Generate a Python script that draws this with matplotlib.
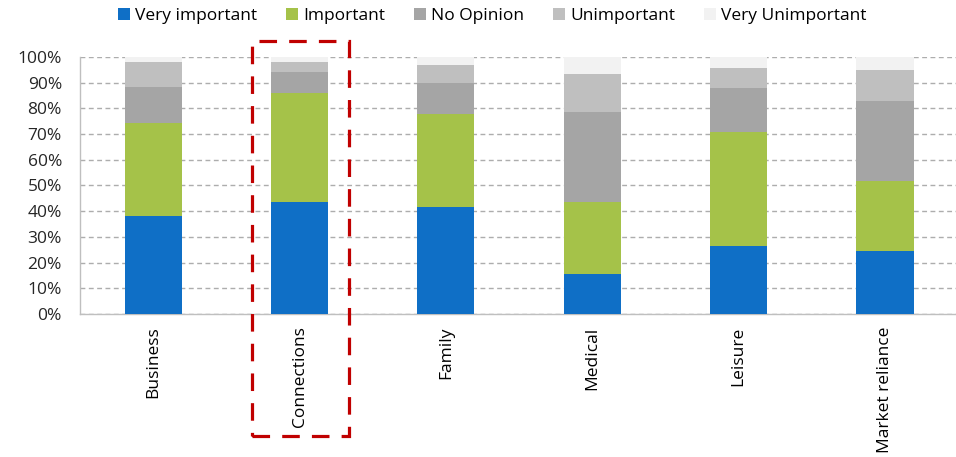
import numpy as np
import matplotlib.pyplot as plt
from matplotlib.patches import Rectangle

plt.rcParams['font.family'] = ['Open Sans', 'DejaVu Sans']

# survey answers per reason, in percent
categories = ["Business", "Connections", "Family", "Medical", "Leisure", "Market reliance"]
very_important = [38.2, 43.4, 41.6, 15.5, 26.4, 24.6]
important = [36.3, 42.4, 36.2, 27.9, 44.5, 27.3]
no_opinion = [13.8, 8.5, 12.1, 35.2, 17.1, 30.9]
unimportant = [9.6, 3.6, 7.1, 14.7, 7.9, 12.0]
very_unimportant = [2.1, 2.1, 3.0, 6.7, 4.1, 5.2]

series = [
    ("Very important", very_important, "#0F6FC6"),
    ("Important", important, "#A5C249"),
    ("No Opinion", no_opinion, "#A5A5A5"),
    ("Unimportant", unimportant, "#BFBFBF"),
    ("Very Unimportant", very_unimportant, "#F2F2F2"),
]

fig = plt.figure(figsize=(9.56, 4.57), dpi=100)
ax = fig.add_axes([0.0837, 0.3129, 0.9163, 0.5624])

x = np.arange(len(categories))
bottom = np.zeros(len(categories))
for name, vals, color in series:
    ax.bar(x, vals, width=0.39, bottom=bottom, color=color, label=name, zorder=3)
    bottom += np.array(vals)

ax.set_ylim(0, 100)
ax.set_xlim(-0.5, 5.485)
ax.set_yticks(np.arange(0, 101, 10))
ax.set_yticklabels([f"{v}%" for v in range(0, 101, 10)], fontsize=12.5, color="#262626")
ax.set_xticks(x)
ax.set_xticklabels(categories, rotation=90, fontsize=12.5, color="black")
ax.tick_params(axis="y", length=0, pad=13)
ax.tick_params(axis="x", length=0, pad=9)

ax.grid(axis="y", color="#ADADAD", linestyle=(0, (3.5, 2.5)), linewidth=1, zorder=0)
for side in ["top", "right"]:
    ax.spines[side].set_visible(False)
for side in ["left", "bottom"]:
    ax.spines[side].set_color("#BFBFBF")
    ax.spines[side].set_linewidth(1)

fig.legend(loc="center", bbox_to_anchor=(0.515, 0.965), ncol=5, frameon=False,
           fontsize=12.5, handlelength=0.65, handleheight=0.65, handletextpad=0.3,
           columnspacing=1.7, borderaxespad=0)

# red dashed highlight around Connections
box = Rectangle((251.7 / 956, 1 - 435.7 / 457), (349.3 - 251.7) / 956, (435.7 - 40.7) / 457,
                transform=fig.transFigure, fill=False, edgecolor="#C00000",
                linewidth=2.3, linestyle=(0, (5.5, 3.8)), zorder=10)
fig.patches.append(box)

fig.savefig("out.png", dpi=100)
